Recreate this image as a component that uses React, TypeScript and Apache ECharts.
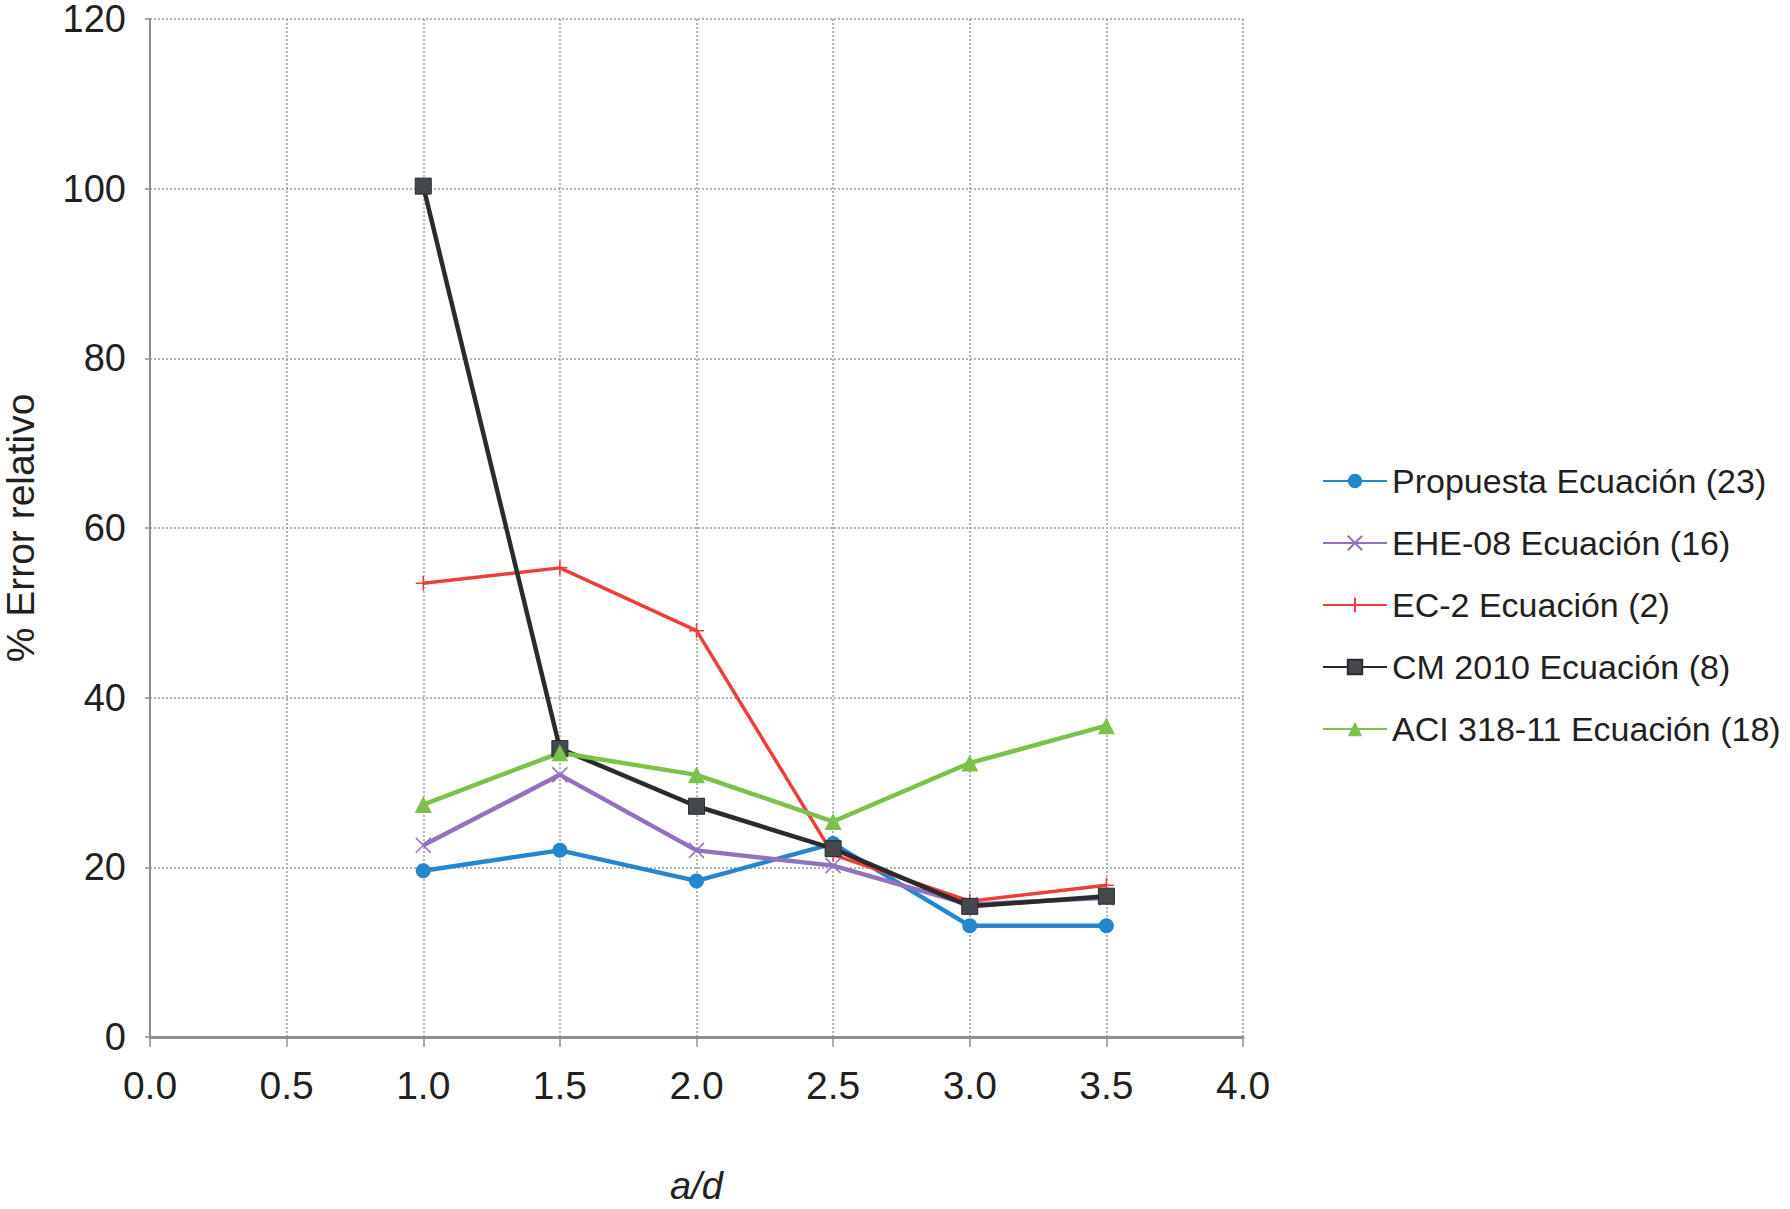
import React, { useEffect, useRef } from 'react';
import * as echarts from 'echarts';

// a/d ratios where every equation was evaluated
const adRatios = [1.0, 1.5, 2.0, 2.5, 3.0, 3.5];

// % relative error
const propuesta = [19.6, 22.0, 18.4, 22.8, 13.1, 13.1];
const ehe08 = [22.6, 30.9, 22.0, 20.2, 15.6, 16.4];
const ec2 = [53.5, 55.3, 47.9, 21.5, 16.0, 17.9];
const cm2010 = [100.3, 34.0, 27.2, 22.2, 15.4, 16.6];
const aci318 = [27.4, 33.5, 30.9, 25.4, 32.3, 36.7];

const seriesNames = [
  'Propuesta Ecuación (23)',
  'EHE-08 Ecuación (16)',
  'EC-2 Ecuación (2)',
  'CM 2010 Ecuación (8)',
  'ACI 318-11 Ecuación (18)',
];

const FONT = '"Liberation Sans", Arial, Helvetica, sans-serif';
const TEXT = '#231f20';

const pairs = (ys: number[]) => adRatios.map((x, i) => [x, ys[i]]);

export default function App() {
  const chartRef = useRef<HTMLDivElement>(null);

  useEffect(() => {
    if (!chartRef.current) return;
    const chart = echarts.init(chartRef.current, undefined, { renderer: 'svg' });

    const option = {
      animation: false,
      backgroundColor: '#ffffff',
      textStyle: { fontFamily: FONT, color: TEXT },
      grid: {
        left: 150,
        right: 547,
        top: 19,
        bottom: 172,
        containLabel: false,
        outerBoundsMode: 'none',
      },
      legend: {
        orient: 'vertical',
        left: 1317,
        top: 456,
        itemWidth: 64,
        itemHeight: 18,
        itemGap: 22,
        data: seriesNames,
        textStyle: { fontFamily: FONT, fontSize: 34, color: TEXT, lineHeight: 40 },
      },
      xAxis: {
        type: 'value',
        min: 0,
        max: 4,
        interval: 0.5,
        name: 'a/d',
        nameLocation: 'middle',
        nameGap: 132,
        nameTextStyle: { fontFamily: FONT, fontSize: 38, fontStyle: 'italic', color: TEXT, lineHeight: 34 },
        axisLine: { show: true, lineStyle: { color: '#8f8f8f', width: 3 } },
        axisTick: { show: true, length: 10, lineStyle: { color: '#8f8f8f', width: 1.5 } },
        axisLabel: {
          fontFamily: FONT,
          fontSize: 39,
          color: TEXT,
          margin: 29,
          formatter: (v: number) => v.toFixed(1),
        },
        splitLine: { show: true, lineStyle: { color: '#9a9a9a', type: [2, 2], width: 1.5 } },
      },
      yAxis: {
        type: 'value',
        min: 0,
        max: 120,
        interval: 20,
        name: '% Error relativo',
        nameLocation: 'middle',
        nameGap: 113,
        nameTextStyle: { fontFamily: FONT, fontSize: 39, color: TEXT, lineHeight: 34 },
        axisLine: { show: true, lineStyle: { color: '#8f8f8f', width: 2 } },
        axisTick: { show: true, length: 5, lineStyle: { color: '#8f8f8f', width: 1.5 } },
        axisLabel: { fontFamily: FONT, fontSize: 38, color: TEXT, margin: 24, lineHeight: 30 },
        splitLine: { show: true, lineStyle: { color: '#9a9a9a', type: [2, 2], width: 1.5 } },
      },
      series: [
        {
          name: seriesNames[0],
          type: 'line',
          data: pairs(propuesta),
          symbol: 'circle',
          symbolSize: 15,
          lineStyle: { color: '#2486cc', width: 4.5 },
          itemStyle: { color: '#2486cc' },
        },
        {
          name: seriesNames[1],
          type: 'line',
          data: pairs(ehe08),
          symbol: 'path://M0,0L10,10M10,0L0,10',
          symbolSize: 15,
          lineStyle: { color: '#9471bf', width: 4.5 },
          itemStyle: { color: 'none', borderColor: '#9471bf', borderWidth: 1.5 },
        },
        {
          name: seriesNames[2],
          type: 'line',
          data: pairs(ec2),
          symbol: 'path://M5,0L5,10M0,5L10,5',
          symbolSize: 15,
          lineStyle: { color: '#ee3e3a', width: 3.5 },
          itemStyle: { color: 'none', borderColor: '#ee3e3a', borderWidth: 1.5 },
        },
        {
          name: seriesNames[3],
          type: 'line',
          data: pairs(cm2010),
          symbol: 'rect',
          symbolSize: 16,
          lineStyle: { color: '#2b2b2d', width: 4.5 },
          itemStyle: { color: '#45484c', borderColor: '#2b2b2d', borderWidth: 1 },
        },
        {
          name: seriesNames[4],
          type: 'line',
          data: pairs(aci318),
          symbol: 'triangle',
          symbolSize: 17,
          lineStyle: { color: '#7cc24a', width: 4.5 },
          itemStyle: { color: '#7cc24a' },
        },
      ],
    };

    chart.setOption(option);
    return () => {
      chart.dispose();
    };
  }, []);

  return (
    <div
      ref={chartRef}
      style={{ position: 'fixed', left: 0, top: 0, width: 1790, height: 1209 }}
    ></div>
  );
}
